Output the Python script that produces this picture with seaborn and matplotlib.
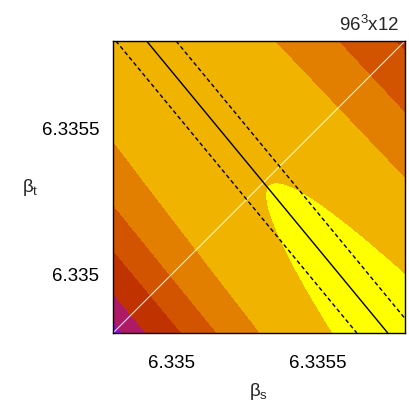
import numpy as np
import matplotlib
matplotlib.use("Agg")
import matplotlib.pyplot as plt
import seaborn as sns

# axis range, same for beta_s and beta_t
b_lo, b_hi = 6.3348, 6.3358
ticks = [6.335, 6.3355]
tick_labels = ["6.335", "6.3355"]

# fitted line and its error band: beta_s where each crosses the top and bottom edge
line_bs_top = [6.33481, 6.334915, 6.335016]
line_bs_bottom = [6.335635, 6.335741, 6.335841]
line_kind = ["dashed", "solid", "dashed"]

tip = (6.33535, 6.33529)
curv, quart, skew, tilt = 20.0, 39.0, 0.22, 6.34

# one point on each band edge, lowest band first -> contour levels
edge_bs = [6.334818, 6.334862, 6.334929, 6.334997, 6.335085, 6.335703]
edge_bt = [6.334818, 6.334862, 6.334929, 6.334997, 6.335085, 6.335084]
band_colors = ["#8c10d0", "#ae1a66", "#c03200", "#d25400", "#e27e00", "#f0b400", "#ffff00"]


def surface(bs, bt):
    span = b_hi - b_lo
    d = np.array([line_bs_bottom[1] - line_bs_top[1], b_lo - b_hi]) / span
    d /= np.hypot(*d)
    ds = (bs - tip[0]) / span
    dt = (bt - tip[1]) / span
    u = d[0] * ds + d[1] * dt
    v = -d[1] * ds + d[0] * dt
    w = v - skew * np.abs(v) ** 3
    return u * (1 + tilt * v ** 3) - curv * w ** 2 - quart * w ** 4


sns.set_style("ticks")
plt.rcParams["font.family"] = ["Liberation Sans", "DejaVu Sans"]
plt.rcParams["mathtext.fontset"] = "custom"
plt.rcParams["mathtext.rm"] = "Liberation Sans"
plt.rcParams["mathtext.default"] = "regular"

fig = plt.figure(figsize=(4.09, 4.09), dpi=100)
ax = fig.add_axes([113 / 409, 76 / 409, 292 / 409, 292 / 409])

g = np.linspace(b_lo, b_hi, 500)
BS, BT = np.meshgrid(g, g)
F = surface(BS, BT)
edges = sorted(surface(np.array(edge_bs), np.array(edge_bt)))
levels = [F.min() - 1] + list(edges) + [F.max() + 1]
ax.contourf(BS, BT, F, levels=levels, colors=band_colors, antialiased=False)

ax.axline((b_lo, b_lo), slope=1, color="white", lw=0.7)
for top, bot, kind in zip(line_bs_top, line_bs_bottom, line_kind):
    ls = "-" if kind == "solid" else (0, (3, 2))
    sns.lineplot(x=[top, bot], y=[b_hi, b_lo], color="black", lw=1, ls=ls, ax=ax)

ax.set_xlim(b_lo, b_hi)
ax.set_ylim(b_lo, b_hi)
ax.set_xticks(ticks)
ax.set_xticklabels(tick_labels)
ax.set_yticks(ticks)
ax.set_yticklabels(tick_labels)
ax.tick_params(direction="in", length=6, width=1, top=True, right=True,
               labelsize=13.5, colors="black")
ax.tick_params(axis="x", pad=16)
ax.tick_params(axis="y", pad=10)
for sp in ax.spines.values():
    sp.set_linewidth(1)
    sp.set_color("black")

ax.set_xlabel("β$_s$", fontsize=13.5, va="center")
ax.xaxis.set_label_coords(0.5, -0.2)
ax.set_ylabel("β$_t$", fontsize=13.5, rotation=0, ha="center", va="center")
ax.yaxis.set_label_coords(-0.284, 0.5)
fig.text(0.975, 0.925, "96$^3$x12", fontsize=13.5, ha="right", va="baseline")

fig.savefig("out.png", dpi=100)
